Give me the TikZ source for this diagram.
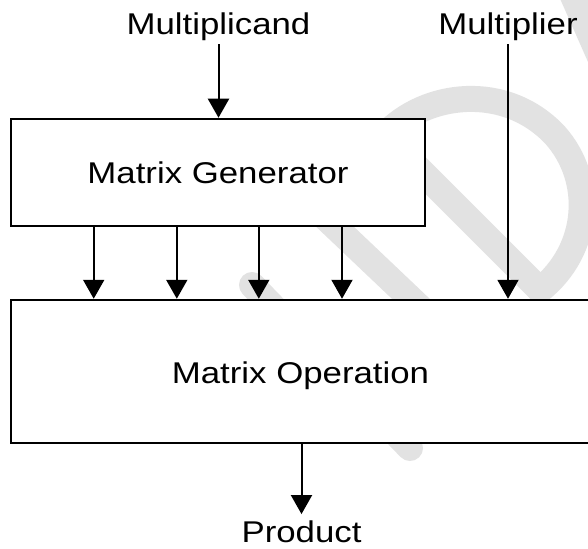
\documentclass[tikz,border=0pt]{standalone}
\usepackage{fontspec}
\setmainfont{Liberation Sans}[FakeStretch=1.16]
\usetikzlibrary{arrows.meta}
\definecolor{wmgray}{RGB}{226,226,226}
\begin{document}
\begin{tikzpicture}[x=1pt,y=-1pt,
  txt/.style={font=\fontsize{30}{36}\selectfont},
  box/.style={draw=black, line width=2.5pt, fill=white, inner sep=0pt, txt},
  lbl/.style={inner sep=0pt, txt},
  arr/.style={line width=2pt, -{Triangle[length=19pt,width=21pt]}},
  wmline/.style={draw=wmgray, line width=26pt, line cap=round, line join=round}]
\useasboundingbox (0,0) rectangle (588,548);
\clip (0,0) rectangle (588,548);
\fill[white] (0,0) rectangle (588,548);

% faint background mark
\draw[wmline] (385,135) -- (540,290);
\draw[wmline] (385,135) .. controls (425,92) and (505,82) .. (555,135)
                        .. controls (595,180) and (590,250) .. (540,290);
\draw[wmline] (252,285) -- (410,448);
\draw[wmline] (290,184) -- (470,355);
\draw[wmline] (566,-20) -- (608,75);

% blocks
\node[box, minimum width=414pt, minimum height=107pt] (gen) at (218,172.5) {Matrix Generator};
\node[box, minimum width=610pt, minimum height=143pt] (op) at (316,371.5) {};
\node[lbl, anchor=base] (optext) at (300.5,383) {Matrix Operation};

% inputs and output labels
\node[lbl, anchor=base] (mlc) at (218.5,35) {Multiplicand};
\node[lbl, anchor=base] (mlr) at (508,35) {Multiplier};
\node[lbl, anchor=base] (prod) at (301.5,542.5) {Product};

% connectors
\draw[arr] ([yshift=-3pt]mlc.south) -- (mlc.south |- gen.north);
\foreach \xx in {93.7,176.8,258.8,342}
  \draw[arr] (\xx,0 |- gen.south) -- (\xx,0 |- op.north);
\draw[arr] ([yshift=-3pt]mlr.south) -- (mlr.south |- op.north);
\draw[arr] (prod.north |- op.south) -- ([yshift=6.5pt]prod.north);
\end{tikzpicture}
\end{document}
